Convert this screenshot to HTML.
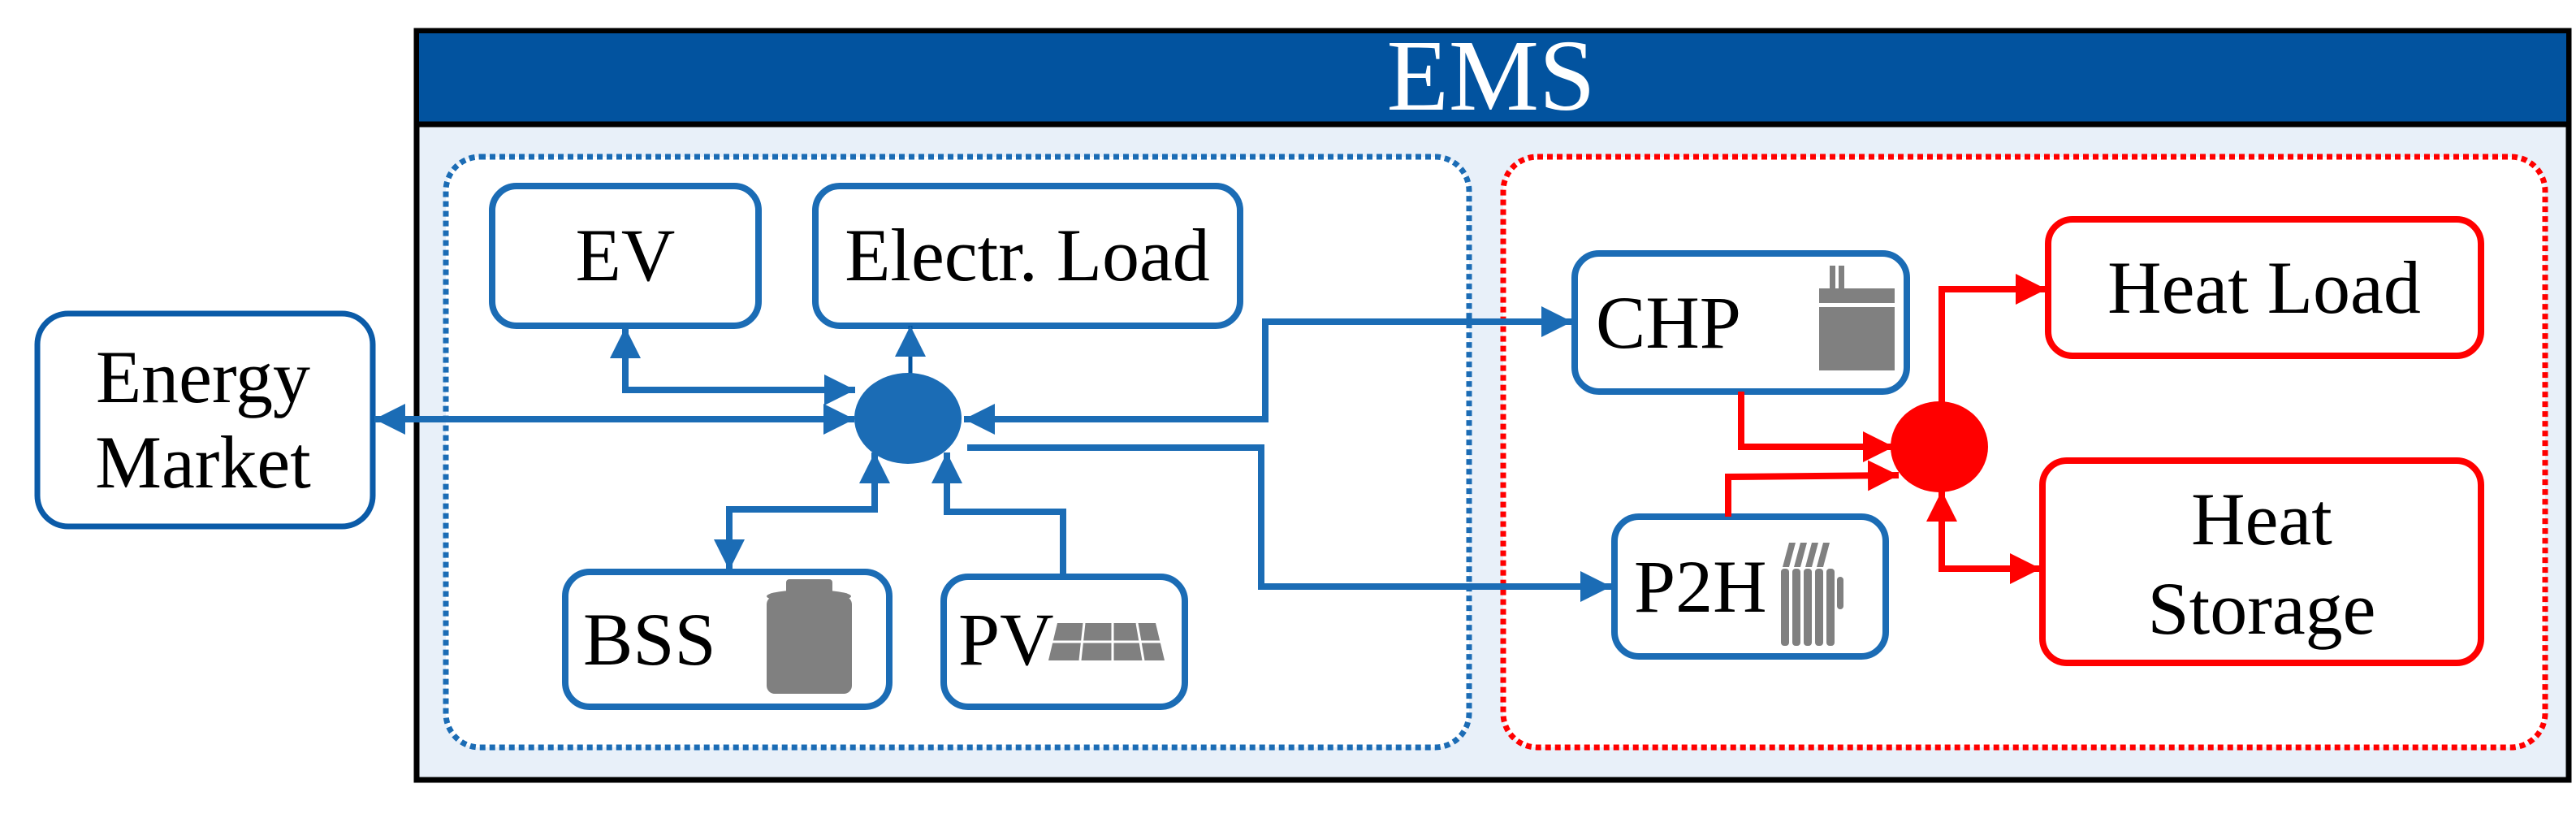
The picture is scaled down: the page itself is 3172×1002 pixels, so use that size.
<!DOCTYPE html>
<html><head><meta charset="utf-8"><style>
html,body{margin:0;padding:0;background:#fff;}
svg{display:block;position:absolute;left:0;top:0;}
.t{position:absolute;font-family:"Liberation Serif","Times New Roman",serif;font-size:92px;line-height:92px;color:#000;white-space:nowrap;}
.c{text-align:center;width:600px;}
</style></head><body>
<div style="position:relative;width:3172px;height:1002px;overflow:hidden;">
<svg width="3172" height="1002" viewBox="0 0 3172 1002" xmlns="http://www.w3.org/2000/svg">
<defs>
<marker id="ab" markerUnits="userSpaceOnUse" markerWidth="40" markerHeight="40" refX="38" refY="19" orient="auto"><path d="M0,0 L38,19 L0,38 Z" fill="#1B6CB5"/></marker>
<marker id="ar" markerUnits="userSpaceOnUse" markerWidth="40" markerHeight="40" refX="38" refY="19" orient="auto"><path d="M0,0 L38,19 L0,38 Z" fill="#FF0000"/></marker>
</defs>
<rect x="513" y="38" width="2650" height="922" fill="#E8F0F9" stroke="#000" stroke-width="7"/>
<rect x="516" y="41" width="2644" height="110" fill="#02539F"/>
<line x1="513" y1="153" x2="3163" y2="153" stroke="#000" stroke-width="7"/>
<rect x="549" y="193" width="1260" height="727" rx="42" fill="#fff" stroke="#1B6CB5" stroke-width="7" stroke-dasharray="7 5"/>
<rect x="1851" y="193" width="1283" height="727" rx="42" fill="#fff" stroke="#FF0000" stroke-width="7" stroke-dasharray="7 5"/>
<rect x="46" y="386" width="413" height="262" rx="38" fill="#fff" stroke="#0B5BA8" stroke-width="7"/>
<g fill="#fff" stroke="#1B6CB5" stroke-width="8">
<rect x="606" y="229" width="328" height="172" rx="30"/>
<rect x="1004" y="229" width="523" height="172" rx="30"/>
<rect x="696" y="704" width="399" height="166" rx="30"/>
<rect x="1162" y="710" width="297" height="160" rx="30"/>
<rect x="1939" y="312" width="409" height="170" rx="30"/>
<rect x="1988" y="636" width="334" height="172" rx="30"/>
</g>
<g fill="#fff" stroke="#FF0000" stroke-width="8">
<rect x="2522" y="270" width="533" height="168" rx="30"/>
<rect x="2515" y="567" width="540" height="249" rx="30"/>
</g>
<g fill="#808080">
<rect x="944" y="734" width="105" height="120" rx="10"/>
<ellipse cx="996" cy="734" rx="52" ry="8"/>
<rect x="968" y="713" width="57" height="20" rx="4"/>
<path d="M1302,767 L1423,767 L1434,813 L1291,813 Z"/>
<rect x="2240" y="355" width="93" height="101"/>
<rect x="2253" y="327" width="7" height="28"/><rect x="2264" y="327" width="7" height="28"/>
</g>
<rect x="2240" y="373" width="93" height="5" fill="#fff"/>
<g stroke="#fff" stroke-width="3"><line x1="1291" y1="790" x2="1434" y2="790"/><line x1="1335" y1="767" x2="1330" y2="813"/><line x1="1370" y1="767" x2="1370" y2="813"/><line x1="1400" y1="767" x2="1408" y2="813"/></g>
<g fill="#808080">
<rect x="2193" y="700" width="10" height="95" rx="4"/><rect x="2207" y="700" width="10" height="95" rx="4"/><rect x="2221" y="700" width="10" height="95" rx="4"/><rect x="2235" y="700" width="10" height="95" rx="4"/><rect x="2249" y="700" width="10" height="95" rx="4"/><rect x="2262" y="710" width="8" height="40" rx="4"/>
<path d="M2203,668 l8,0 l-8,30 l-8,0 Z M2217,668 l8,0 l-8,30 l-8,0 Z M2231,668 l8,0 l-8,30 l-8,0 Z M2245,668 l8,0 l-8,30 l-8,0 Z"/>
</g>
<g fill="none" stroke="#1B6CB5" stroke-width="8">
<line x1="1050" y1="516" x2="461" y2="516" marker-end="url(#ab)"/>
<line x1="500" y1="516" x2="1052" y2="516" marker-end="url(#ab)"/>
<polyline points="770,440 770,480 1053,480" marker-end="url(#ab)"/>
<line x1="770" y1="440" x2="770" y2="403" marker-end="url(#ab)"/>
<polyline points="898,670 898,627 1077,627 1077,557" marker-end="url(#ab)"/>
<line x1="898" y1="670" x2="898" y2="702" marker-end="url(#ab)"/>
<polyline points="1309,708 1309,630 1166,630 1166,557" marker-end="url(#ab)"/>
<polyline points="1937,396 1558,396 1558,516 1187,516" marker-end="url(#ab)"/>
<line x1="1900" y1="396" x2="1936" y2="396" marker-end="url(#ab)"/>
<polyline points="1191,551 1553,551 1553,722 1984,722" marker-end="url(#ab)"/>
</g>
<line x1="1121" y1="462" x2="1121" y2="401" stroke="#02539F" stroke-width="5" marker-end="url(#ab)"/>
<ellipse cx="1118" cy="515" rx="66" ry="56" fill="#1B6CB5"/>
<g fill="none" stroke="#FF0000" stroke-width="8">
<polyline points="2391,500 2391,356 2520,356" marker-end="url(#ar)"/>
<polyline points="2144,482 2144,550 2332,550" marker-end="url(#ar)"/>
<polyline points="2128,636 2128,587 2338,585" marker-end="url(#ar)"/>
<polyline points="2391,650 2391,700 2513,700" marker-end="url(#ar)"/>
<line x1="2391" y1="650" x2="2391" y2="604" marker-end="url(#ar)"/>
</g>
<ellipse cx="2388" cy="550" rx="60" ry="56" fill="#FF0000"/>
</svg>
<div class="t c" style="left:1536px;top:32px;font-size:125px;line-height:125px;color:#fff;">EMS</div>
<div class="t c" style="left:-50px;top:418px;">Energy</div>
<div class="t c" style="left:-50px;top:523px;">Market</div>
<div class="t c" style="left:470px;top:268px;">EV</div>
<div class="t c" style="left:965px;top:268px;">Electr. Load</div>
<div class="t" style="left:718px;top:741px;">BSS</div>
<div class="t" style="left:1180px;top:741px;">PV</div>
<div class="t" style="left:1965px;top:351px;">CHP</div>
<div class="t" style="left:2012px;top:676px;">P2H</div>
<div class="t c" style="left:2488px;top:308px;">Heat Load</div>
<div class="t c" style="left:2485px;top:593px;">Heat</div>
<div class="t c" style="left:2485px;top:703px;">Storage</div>
</div>
</body></html>
